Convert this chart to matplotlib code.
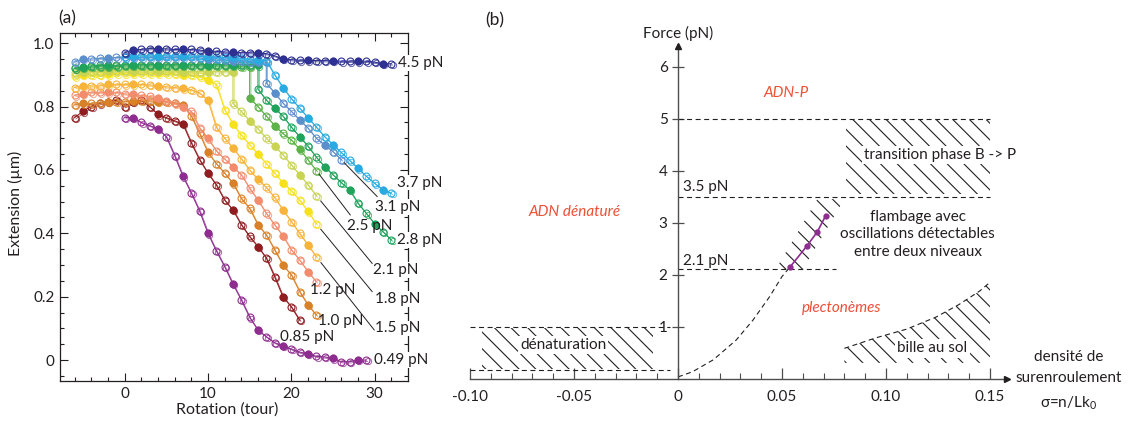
import matplotlib
matplotlib.use("Agg")
import matplotlib.pyplot as plt
import matplotlib.transforms as mtransforms
import numpy as np

plt.rcParams['font.family'] = ['Lato', 'DejaVu Sans']
plt.rcParams['font.size'] = 11
plt.rcParams['mathtext.fontset'] = 'custom'
plt.rcParams['mathtext.rm'] = 'Lato'
plt.rcParams['hatch.linewidth'] = 0.8

ink = '#231f20'
red = '#ec5035'

# ---------- panel (a) data: extension (um) vs rotation (turns) ----------
forces = ['0.49', '0.85', '1.0', '1.2', '1.5', '1.8', '2.1', '2.5', '2.8', '3.1', '3.7', '4.5']
colors = ['#8e2c8f', '#8f1c1f', '#d98128', '#f28c6c', '#f8b33a', '#f7e11d',
          '#c8d452', '#5cb347', '#20a35b', '#5b8fcc', '#29abe2', '#2e3192']
starts = [0, -6, -6, -6, -6, -6, -6, -6, -6, -6, 0, 0]
jumps = [None, None, None, None, None, None, 13, 15, 16, 17, None, None]

ext_049 = [0.765, 0.765, 0.75, 0.74, 0.73, 0.705, 0.645, 0.58, 0.527, 0.47,
           0.40, 0.345, 0.295, 0.24, 0.19, 0.135, 0.095, 0.074, 0.055, 0.045,
           0.035, 0.025, 0.02, 0.012, 0.01, 0.005, -0.005, -0.005, 0.0, 0.0]
ext_085 = [0.765, 0.785, 0.80, 0.81, 0.815, 0.82, 0.80, 0.815, 0.82, 0.80,
           0.775, 0.765, 0.755, 0.745, 0.685, 0.632, 0.59, 0.553, 0.505, 0.474,
           0.427, 0.39, 0.358, 0.322, 0.263, 0.20, 0.168, 0.126]
ext_100 = [0.805, 0.81, 0.81, 0.812, 0.815, 0.815, 0.815, 0.818, 0.818, 0.818,
           0.815, 0.815, 0.812, 0.806, 0.77, 0.715, 0.655, 0.62, 0.59, 0.558,
           0.51, 0.479, 0.427, 0.395, 0.348, 0.30, 0.269, 0.216, 0.174, 0.142]
ext_120 = [0.835, 0.84, 0.845, 0.845, 0.845, 0.845, 0.84, 0.838, 0.835, 0.832,
           0.827, 0.816, 0.81, 0.80, 0.785, 0.732, 0.70, 0.66, 0.635, 0.61,
           0.585, 0.542, 0.505, 0.463, 0.427, 0.392, 0.348, 0.316, 0.279, 0.247]
ext_150 = [0.86, 0.865, 0.865, 0.865, 0.87, 0.87, 0.87, 0.87, 0.87, 0.868,
           0.865, 0.862, 0.86, 0.857, 0.853, 0.843, 0.82, 0.735, 0.70, 0.67,
           0.635, 0.60, 0.57, 0.545, 0.513, 0.474, 0.437, 0.40, 0.363, 0.326]
ext_180 = [0.895, 0.90, 0.90, 0.90, 0.902, 0.905, 0.905, 0.905, 0.905, 0.905,
           0.905, 0.905, 0.903, 0.90, 0.90, 0.895, 0.885, 0.87, 0.79, 0.745,
           0.71, 0.68, 0.65, 0.62, 0.59, 0.56, 0.535, 0.505, 0.469, 0.43]
ext_210 = [0.905, 0.91, 0.91, 0.91, 0.912, 0.912, 0.912, 0.912, 0.912, 0.912,
           0.912, 0.912, 0.912, 0.91, 0.91, 0.91, 0.91, 0.91, 0.91, 0.91,
           0.81, 0.785, 0.755, 0.73, 0.70, 0.675, 0.648, 0.616, 0.585, 0.553, 0.519]
ext_250 = [0.92, 0.922, 0.925, 0.925, 0.925, 0.927, 0.928, 0.928, 0.928, 0.928,
           0.928, 0.928, 0.928, 0.928, 0.928, 0.928, 0.928, 0.928, 0.928, 0.928,
           0.925, 0.925, 0.827, 0.80, 0.77, 0.74, 0.715, 0.695, 0.665, 0.632, 0.598]
ext_280 = [0.92, 0.925, 0.928, 0.93, 0.93, 0.93, 0.932, 0.932, 0.932, 0.932,
           0.932, 0.932, 0.932, 0.932, 0.932, 0.932, 0.932, 0.932, 0.932, 0.932,
           0.932, 0.932, 0.93, 0.855, 0.82, 0.795, 0.77, 0.735, 0.705, 0.675,
           0.64, 0.61, 0.585, 0.56, 0.537, 0.495, 0.463, 0.43, 0.405, 0.379]
ext_310 = [0.94, 0.95, 0.95, 0.952, 0.952, 0.955, 0.955, 0.955, 0.955, 0.955,
           0.955, 0.955, 0.955, 0.955, 0.955, 0.953, 0.95, 0.95, 0.948, 0.945,
           0.945, 0.942, 0.94, 0.94, 0.874, 0.843, 0.811, 0.785, 0.758, 0.732,
           0.70, 0.679, 0.658, 0.632]
ext_370 = [0.955, 0.958, 0.96, 0.96, 0.96, 0.96, 0.96, 0.96, 0.96, 0.958,
           0.958, 0.955, 0.955, 0.955, 0.952, 0.95, 0.948, 0.945, 0.90, 0.86,
           0.825, 0.795, 0.765, 0.735, 0.705, 0.68, 0.655, 0.63, 0.605, 0.58,
           0.558, 0.537, 0.527]
ext_450 = [0.969, 0.979, 0.98, 0.983, 0.982, 0.982, 0.98, 0.98, 0.98, 0.978,
           0.975, 0.974, 0.972, 0.971, 0.97, 0.97, 0.968, 0.967, 0.96, 0.95,
           0.948, 0.946, 0.946, 0.945, 0.945, 0.944, 0.943, 0.943, 0.943, 0.943,
           0.94, 0.935, 0.935]
extensions = [ext_049, ext_085, ext_100, ext_120, ext_150, ext_180,
              ext_210, ext_250, ext_280, ext_310, ext_370, ext_450]

# force labels (left edge of text) and leader-line end points
label_x = [29.95, 18.7, 23.2, 22.3, 30.1, 30.1, 29.85, 26.7, 32.7, 30.1, 32.7, 32.85]
label_y = [0.0, 0.073, 0.123, 0.22, 0.10, 0.193, 0.284, 0.424, 0.379, 0.483, 0.56, 0.938]
leader_x = [None, None, None, None, 29.95, 29.7, 29.7, 27.07, None, 30.3, None, None]
leader_y = [None, None, None, None, 0.095, 0.216, 0.305, 0.458, None, 0.516, None, None]
label_box = [True, False, False, False, True, True, True, False, True, True, True, True]

# ---------- panel (b) data: phase diagram ----------
level_transition = 5.0
level_phase_p = 3.5
level_buckling = 2.1
level_denat_high = 1.0
level_denat_low = 0.17
onset_sigma = [0.0, 0.007, 0.017, 0.028, 0.036, 0.044, 0.050, 0.054]
onset_force = [0.03, 0.13, 0.36, 0.74, 1.12, 1.57, 1.96, 2.15]
bead_sigma = [0.080, 0.095, 0.110, 0.124, 0.135, 0.145, 0.150]
bead_force = [0.58, 0.78, 0.95, 1.18, 1.42, 1.68, 1.85]
osc_sigma = [0.054, 0.062, 0.067, 0.071]
osc_force = [2.15, 2.55, 2.82, 3.13]

W, H = 1137, 421
fig = plt.figure(figsize=(W / 100, H / 100), dpi=100)

# ================= panel (a) =================
ax = fig.add_axes([60 / W, 40 / H, 348 / W, 348 / H])
shift = mtransforms.offset_copy(ax.transData, fig=fig, x=1.3, y=-1.3, units='dots')

for i, (f, c, s, j, e) in enumerate(zip(forces, colors, starts, jumps, extensions)):
    e = np.array(e)
    r = np.arange(s, s + len(e), dtype=float)
    if j is not None:
        r[j - s + 1:] -= 1
    z = 3 + i * 0.1
    ax.plot(r, e, '-', color=c, lw=0.8, marker='o', ms=5, mfc='none', mew=0.8, zorder=z)
    ax.plot(r, e, '-', color=c, lw=0.6, marker='o', ms=4.5, mfc='none', mew=0.7,
            alpha=0.75, transform=shift, zorder=z)
    ax.plot(r[1::3], e[1::3], 'o', color=c, ms=4.5, zorder=z)

    if leader_x[i] is not None:
        x0, y0 = r[-1], e[-1]
        x1, y1 = leader_x[i], leader_y[i]
        ax.plot([x0 + 0.08 * (x1 - x0), x1], [y0 + 0.08 * (y1 - y0), y1],
                color=ink, lw=0.7, zorder=6)
    box = dict(facecolor='white', edgecolor='none', pad=0.6) if label_box[i] else None
    ax.text(label_x[i], label_y[i], f + ' pN', ha='left', va='center', color=ink,
            bbox=box, zorder=8, clip_on=False)

ax.set_xlim(-7.75, 34.0)
ax.set_ylim(-0.066, 1.032)
ax.set_xticks([0, 10, 20, 30])
ax.set_xticks(np.arange(-6, 34, 2), minor=True)
ax.set_yticks([0, 0.2, 0.4, 0.6, 0.8, 1.0])
ax.set_yticklabels(['0', '0.2', '0.4', '0.6', '0.8', '1.0'])
ax.set_yticks(np.arange(-0.05, 1.03, 0.05), minor=True)
ax.tick_params(which='both', direction='in', top=True, right=True, colors=ink,
               labelsize=11, width=0.8)
ax.tick_params(which='major', length=6, pad=4)
ax.tick_params(which='minor', length=3)
for sp in ax.spines.values():
    sp.set_color(ink)
    sp.set_linewidth(0.9)
ax.set_xlabel('Rotation (tour)', color=ink, va='top', fontsize=11.5)
ax.xaxis.set_label_coords(0.48, -0.062)
ax.set_ylabel('Extension (µm)', color=ink, fontsize=11.5)
ax.yaxis.set_label_coords(-0.105, 0.51)

fig.text(58 / W, 1 - 18.5 / H, '(a)', fontsize=12.5, color=ink, va='center')

# ================= panel (b) =================
y0px, topy = 378.5, 6.4
axb = fig.add_axes([470 / W, (H - y0px) / H, 537 / W, (topy * 52) / H])
axb.set_xlim(-0.10, 0.1582)
axb.set_ylim(0, topy)
for s in ['top', 'right']:
    axb.spines[s].set_visible(False)
axb.spines['left'].set_position(('data', 0))
axb.spines['bottom'].set_bounds(-0.10, 0.1582)
for s in ['left', 'bottom']:
    axb.spines[s].set_color('#4d4d4f')
    axb.spines[s].set_linewidth(1.0)
axb.plot(0.1582, 0, '>', color='#231f20', ms=5, clip_on=False, zorder=5)
axb.plot(0, topy, '^', color='#231f20', ms=5, clip_on=False, zorder=5)

axb.set_xticks([-0.10, -0.05, 0, 0.05, 0.10, 0.15])
axb.set_xticklabels(['-0.10', '-0.05', '0', '0.05', '0.10', '0.15'])
axb.set_xticks(np.arange(-0.10, 0.1501, 0.01), minor=True)
axb.set_yticks([1, 2, 3, 4, 5, 6])
axb.tick_params(axis='x', which='major', direction='in', length=8, width=0.9,
                pad=8, colors='#4d4d4f', labelcolor=ink, labelsize=11)
axb.tick_params(axis='x', which='minor', direction='in', length=4.5, width=0.8,
                colors='#4d4d4f')
axb.tick_params(axis='y', direction='inout', length=9, width=0.9, pad=3,
                colors='#4d4d4f', labelcolor=ink, labelsize=11)

dash = (0, (4.5, 3.2))
dk = dict(color=ink, lw=0.8, ls=dash)
axb.plot([0, 0.15], [level_transition, level_transition], **dk)
axb.plot([0, 0.15], [level_phase_p, level_phase_p], **dk)
axb.plot([0, 0.076], [level_buckling, level_buckling], **dk)
axb.plot([-0.10, -0.004], [level_denat_high, level_denat_high], **dk)
axb.plot([-0.10, -0.004], [level_denat_low, level_denat_low], **dk)
axb.plot(onset_sigma, onset_force, **dk)
axb.plot(bead_sigma, bead_force, **dk)

hk = dict(facecolor='none', edgecolor=ink, hatch='\\\\', linewidth=0)
axb.fill_between([-0.094, -0.012], level_denat_low + 0.02, level_denat_high - 0.02, **hk)
axb.fill_between([0.081, 0.15], level_phase_p + 0.05, level_transition - 0.02, **hk)
axb.fill([0.047, 0.060, 0.080, 0.067], [2.1, 2.1, 3.45, 3.45], **hk)
axb.fill_between(bead_sigma, 0.3, bead_force, **hk)

axb.plot(osc_sigma, osc_force, '-o', color='#8e2c8f', lw=1.2, ms=3.5, zorder=5)

wbox = dict(facecolor='white', edgecolor='none', pad=1.5)
axb.text(-0.0552, 0.644, 'dénaturation', ha='center', va='center', color=ink, bbox=wbox)
axb.text(0.126, 4.30, 'transition phase B -> P', ha='center', va='center', color=ink,
         bbox=wbox, clip_on=False)
axb.text(0.1152, 2.77, 'flambage avec\noscillations détectables\nentre deux niveaux',
         ha='center', va='center', color=ink, linespacing=1.35)
axb.text(0.1224, 0.577, 'bille au sol', ha='center', va='center', color=ink, bbox=wbox)
axb.text(0.0022, 3.69, '3.5 pN', ha='left', va='center', color=ink)
axb.text(0.0022, 2.26, '2.1 pN', ha='left', va='center', color=ink)

axb.text(0.052, 5.49, 'ADN-P', ha='center', va='center', color=red, style='italic')
axb.text(-0.0497, 3.21, 'ADN dénaturé', ha='center', va='center', color=red, style='italic')
axb.text(0.0786, 1.35, 'plectonèmes', ha='center', va='center', color=red, style='italic')

axb.text(0, 6.64, 'Force (pN)', ha='center', va='center', color=ink, clip_on=False)
axb.text(0.188, 0.42, 'densité de', ha='center', va='center', color=ink, clip_on=False)
axb.text(0.188, 0.0, 'surenroulement', ha='center', va='center', color=ink, clip_on=False)
axb.text(0.188, -0.47, r'σ=n/Lk$_\mathregular{0}$', ha='center', va='center', color=ink,
         clip_on=False)

fig.text(485 / W, 1 - 20 / H, '(b)', fontsize=12.5, color=ink, va='center')

fig.savefig('out.png', dpi=100)
